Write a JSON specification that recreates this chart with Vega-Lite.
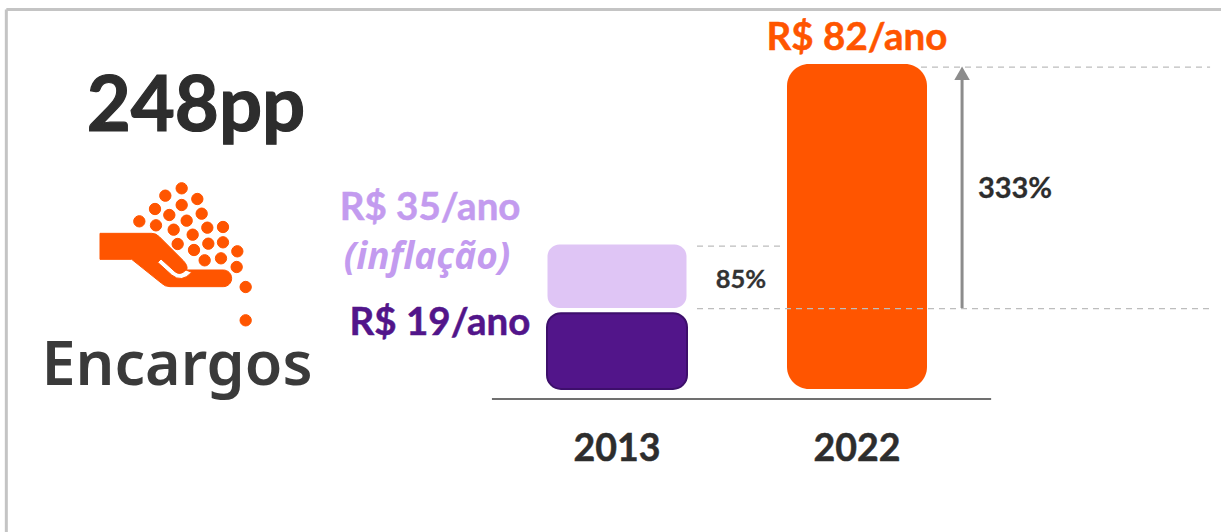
{
"$schema":"https://vega.github.io/schema/vega-lite/v6.json",
"width":1221,"height":532,"padding":0,
"autosize":{"type":"none"},
"background":"white",
"config":{"view":{"stroke":null},"text":{"font":"Lato","fontWeight":"bold"}},
"datasets":{
"frame":[{"year":1990.1,"year2":2035.65,"value":96.05,"value2":96.05},{"year":1990.1,"year2":1990.1,"value":96.05,"value2":-36.19}],
"bars":[{"year":2013,"series":"inflação","value":36.6,"value2":20.5},{"year":2013,"series":"2013","value":19.2,"value2":0},{"year":2022,"series":"2022","value":82.25,"value2":0}],
"dashes":[{"year":2024.4,"year2":2035.24,"value":81.49,"value2":81.49},{"year":2016,"year2":2019.22,"value":36.19,"value2":36.19},{"year":2016,"year2":2035.24,"value":20.37,"value2":20.37}],
"arrow":[{"year":2025.94,"year2":2025.94,"value":20.5,"value2":79}],
"arrowhead":[{"year":2025.94,"value":79.9}],
"baseline":[{"year":2008.31,"year2":2027.03,"value":-2.53,"value2":-2.53}],
"icon":[{"year":1996.425,"value":33.92}],
"headline":[{"year":1997.21,"value":71.0,"label":"248pp"}],
"name":[{"year":1996.5,"value":5.57,"label":"Encargos"}],
"axis":[{"year":2013,"value":-15.44,"label":"2013"},{"year":2022,"value":-15.44,"label":"2022"}],
"pct":[{"year":2017.65,"value":27.59,"label":"85%","s":"a"},{"year":2027.925,"value":50.62,"label":"333%","s":"b"}],
"values":[{"year":2022,"value":88.84,"label":"R$ 82/ano","c":"o"},{"year":2005.99,"value":45.81,"label":"R$ 35/ano","c":"l"},{"year":2006.36,"value":16.7,"label":"R$ 19/ano","c":"d"}],
"infl":[{"year":2005.875,"value":33.16,"label":"(inflação)"}]
},
"encoding":{
"x":{"field":"year","type":"quantitative","axis":null,"scale":{"domain":[1989.8625,2035.65],"nice":false,"zero":false,"padding":0}},
"y":{"field":"value","type":"quantitative","axis":null,"scale":{"domain":[-36.19,98.46],"nice":false,"zero":false}}
},
"layer":[
{"data":{"name":"frame"},"mark":{"type":"rule","stroke":"#c4c4c4","strokeWidth":3},"encoding":{"x2":{"field":"year2"},"y2":{"field":"value2"}}},
{"data":{"name":"bars"},"transform":[{"filter":"datum.series==='inflação'"}],"mark":{"type":"bar","width":139,"cornerRadius":12,"fill":"#dfc5f5"},"encoding":{"y2":{"field":"value2"}}},
{"data":{"name":"bars"},"transform":[{"filter":"datum.series==='2013'"}],"mark":{"type":"bar","width":140,"cornerRadius":14,"fill":"#52158a","stroke":"#3d0f6b","strokeWidth":2},"encoding":{"y2":{"field":"value2"}}},
{"data":{"name":"bars"},"transform":[{"filter":"datum.series==='2022'"}],"mark":{"type":"bar","width":140,"cornerRadius":22,"fill":"#ff5500"},"encoding":{"y2":{"field":"value2"}}},
{"data":{"name":"dashes"},"mark":{"type":"rule","stroke":"#bdbdbd","strokeWidth":1.2,"strokeDash":[6,5]},"encoding":{"x2":{"field":"year2"},"y2":{"field":"value2"}}},
{"data":{"name":"arrow"},"mark":{"type":"rule","stroke":"#8c8c8c","strokeWidth":3},"encoding":{"x2":{"field":"year2"},"y2":{"field":"value2"}}},
{"data":{"name":"arrowhead"},"mark":{"type":"point","shape":"triangle-up","filled":true,"fill":"#8c8c8c","stroke":null,"opacity":1,"size":240}},
{"data":{"name":"baseline"},"mark":{"type":"rule","stroke":"#404040","strokeWidth":1.5},"encoding":{"x2":{"field":"year2"},"y2":{"field":"value2"}}},
{"data":{"name":"icon"},"mark":{"type":"point","filled":true,"fill":"#ff5500","stroke":"#ff5500","strokeWidth":1,"opacity":1,"size":0.4444,
"shape":"M-225 -65L-70 -65Q-57 -65 -47 -55L25 17Q40 33 35 45L145 45A25 25 0 0 1 145 95L-15 95Q-30 95 -40 85L-130 13L-225 13ZM-42 12L-52 22L-10 60Q20 85 50 52L33 45Q15 63 0 50ZM3 -200a17 17 0 1 0 34 0a17 17 0 1 0 -34 0zM-46 -178a17 17 0 1 0 34 0a17 17 0 1 0 -34 0zM50 -168a17 17 0 1 0 34 0a17 17 0 1 0 -34 0zM3 -150a17 17 0 1 0 34 0a17 17 0 1 0 -34 0zM-77 -138a17 17 0 1 0 34 0a17 17 0 1 0 -34 0zM-34 -120a17 17 0 1 0 34 0a17 17 0 1 0 -34 0zM63 -124a17 17 0 1 0 34 0a17 17 0 1 0 -34 0zM-124 -101a17 17 0 1 0 34 0a17 17 0 1 0 -34 0zM-74 -89a17 17 0 1 0 34 0a17 17 0 1 0 -34 0zM18 -103a17 17 0 1 0 34 0a17 17 0 1 0 -34 0zM80 -82a17 17 0 1 0 34 0a17 17 0 1 0 -34 0zM127 -84a17 17 0 1 0 34 0a17 17 0 1 0 -34 0zM-21 -76a17 17 0 1 0 34 0a17 17 0 1 0 -34 0zM36 -61a17 17 0 1 0 34 0a17 17 0 1 0 -34 0zM-9 -33a17 17 0 1 0 34 0a17 17 0 1 0 -34 0zM83 -34a17 17 0 1 0 34 0a17 17 0 1 0 -34 0zM127 -38a17 17 0 1 0 34 0a17 17 0 1 0 -34 0zM40 -15a17 17 0 1 0 34 0a17 17 0 1 0 -34 0zM170 -11a17 17 0 1 0 34 0a17 17 0 1 0 -34 0zM72 16a17 17 0 1 0 34 0a17 17 0 1 0 -34 0zM121 10a17 17 0 1 0 34 0a17 17 0 1 0 -34 0zM168 36a17 17 0 1 0 34 0a17 17 0 1 0 -34 0zM195 96a17 17 0 1 0 34 0a17 17 0 1 0 -34 0zM195 196a17 17 0 1 0 34 0a17 17 0 1 0 -34 0z"}},
{"data":{"name":"headline"},"mark":{"type":"text","fontSize":76,"fontWeight":"bold","color":"#2d2d2d","stroke":"#2d2d2d","strokeWidth":1.2,"baseline":"middle"},"encoding":{"text":{"field":"label"}}},
{"data":{"name":"name"},"mark":{"type":"text","font":"Noto Sans","fontSize":61,"fontWeight":600,"color":"#3a3a3a","baseline":"middle"},"encoding":{"text":{"field":"label"}}},
{"data":{"name":"axis"},"mark":{"type":"text","fontSize":37.5,"fontWeight":"bold","color":"#2d2d2d","stroke":"#2d2d2d","strokeWidth":0.5,"baseline":"middle"},"encoding":{"text":{"field":"label"}}},
{"data":{"name":"pct"},"transform":[{"filter":"datum.s==='a'"}],"mark":{"type":"text","fontSize":25.5,"fontWeight":"bold","color":"#333333","stroke":"#333333","strokeWidth":0.3,"baseline":"middle"},"encoding":{"text":{"field":"label"}}},
{"data":{"name":"pct"},"transform":[{"filter":"datum.s==='b'"}],"mark":{"type":"text","fontSize":29,"fontWeight":"bold","color":"#2d2d2d","stroke":"#2d2d2d","strokeWidth":0.3,"baseline":"middle"},"encoding":{"text":{"field":"label"}}},
{"data":{"name":"values"},"mark":{"type":"text","fontSize":38.5,"fontWeight":"bold","strokeWidth":0.5,"baseline":"middle"},"encoding":{"text":{"field":"label"},"color":{"field":"c","type":"nominal","legend":null,"scale":{"domain":["o","l","d"],"range":["#ff5500","#c39bef","#52158a"]}},"stroke":{"field":"c","type":"nominal","legend":null,"scale":{"domain":["o","l","d"],"range":["#ff5500","#c39bef","#52158a"]}}}},
{"data":{"name":"infl"},"mark":{"type":"text","font":"Open Sans","fontSize":37,"fontWeight":"bold","fontStyle":"italic","color":"#c39bef","baseline":"middle"},"encoding":{"text":{"field":"label"}}}
]
}
